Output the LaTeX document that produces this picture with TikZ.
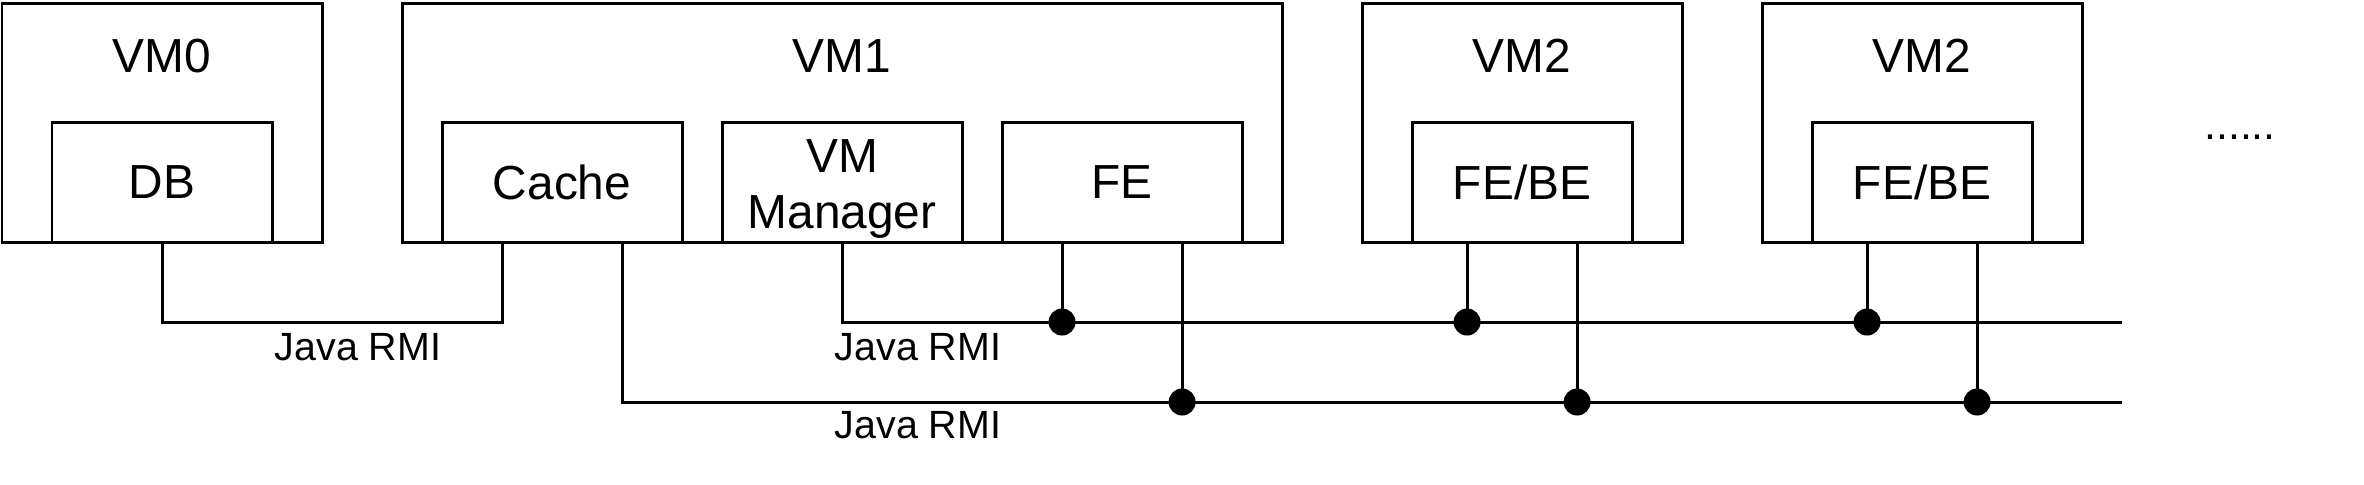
\documentclass[tikz,border=0pt]{standalone}
\usepackage{fontspec}
\setmainfont{Liberation Sans}
\usetikzlibrary{calc}
\newcommand{\vmfont}{\fontsize{13.6pt}{15.9pt}\selectfont}
\newcommand{\rmifont}{\fontsize{11.2pt}{13pt}\selectfont}

\tikzset{
  vmbox/.style={draw, line width=0.85pt, anchor=north west, inner sep=0pt, outer sep=0pt, minimum height=2.39cm},
  svcbox/.style={draw, fill=white, line width=0.85pt, anchor=north west, inner sep=0pt, outer sep=0pt, minimum height=1.2cm, font=\vmfont, align=center},
  vmtitle/.style={anchor=base, inner sep=0pt, font=\vmfont},
  rmi/.style={anchor=base, inner sep=0pt, font=\rmifont},
  wire/.style={line width=0.85pt},
  tap/.style={circle, fill, inner sep=0pt, minimum size=0.27cm},
}

\begin{document}
\begin{tikzpicture}[x=0.01cm, y=-0.01cm]
\useasboundingbox (0,0) rectangle (2364,484);

% virtual machines
\node (vm0) [vmbox, minimum width=3.2cm] at (2,3) {};
\node (vm1) [vmbox, minimum width=8.8cm] at (402,3) {};
\node (vm2) [vmbox, minimum width=3.2cm] at (1362,3) {};
\node (vm3) [vmbox, minimum width=3.2cm] at (1762,3) {};

\node (vm0t) [vmtitle] at (162,72) {VM0};
\node (vm1t) [vmtitle] at (842,72) {VM1};
\node (vm2t) [vmtitle] at (1522,72) {VM2};
\node (vm3t) [vmtitle] at (1922,72) {VM2};

% services
\node (db) [svcbox, minimum width=2.2cm] at (52,122) {DB};
\node (cache) [svcbox, minimum width=2.4cm] at (442,122) {Cache};
\node (vmm) [svcbox, minimum width=2.4cm] at (722,122) {};
\node (vmmt) [inner sep=0pt, align=center, font=\vmfont] at (842,189) {VM\\Manager};
\node (fe) [svcbox, minimum width=2.4cm] at (1002,122) {FE};
\node (febe0) [svcbox, minimum width=2.2cm] at (1412,122) {FE/BE};
\node (febe1) [svcbox, minimum width=2.2cm] at (1812,122) {FE/BE};

\node (more) [anchor=base, inner sep=0pt, font=\fontsize{12.2pt}{14pt}\selectfont] at (2240,139) {......};

% buses
\coordinate (bus1) at (2122,322);
\coordinate (bus2) at (2122,402);

\draw[wire] (db.south) -- ++(0,80) -| ($(cache.south west)!.25!(cache.south east)$);
\draw[wire] (vmm.south) |- (bus1);
\draw[wire] ($(cache.south west)!.75!(cache.south east)$) |- (bus2);

\foreach \s in {fe,febe0,febe1}{
  \coordinate (\s-l) at ($(\s.south west)!.25!(\s.south east)$);
  \coordinate (\s-r) at ($(\s.south west)!.75!(\s.south east)$);
  \draw[wire] (\s-l) -- (\s-l |- bus1) node (\s-t1) [tap] {};
  \draw[wire] (\s-r) -- (\s-r |- bus2) node (\s-t2) [tap] {};
}

\node (rmi0) [rmi] at (358,360) {Java RMI};
\node (rmi1) [rmi] at (918,360) {Java RMI};
\node (rmi2) [rmi] at (918,438) {Java RMI};
\end{tikzpicture}
\end{document}
